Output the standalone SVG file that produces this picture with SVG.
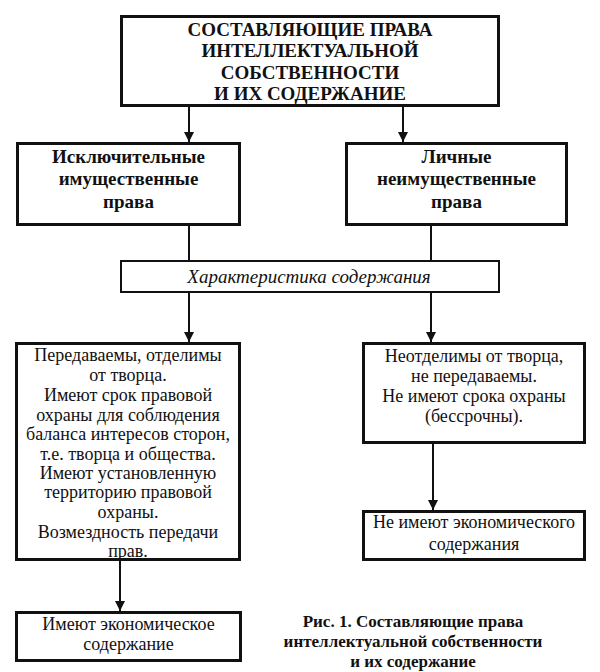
<svg xmlns="http://www.w3.org/2000/svg" width="600" height="672" viewBox="0 0 600 672">
<style>
  .box { fill: #fff; stroke: #111; stroke-width: 3; }
  .thin { fill: #fff; stroke: #111; stroke-width: 2; }
  .conn { stroke: #111; stroke-width: 2; fill: none; }
  text { font-family: "Liberation Serif", "Times New Roman", serif; fill: #111; text-anchor: middle; }
  .title { font-size: 19px; font-weight: bold; }
  .head { font-size: 19px; font-weight: bold; }
  .ital { font-size: 19px; font-style: italic; }
  .body { font-size: 18px; }
  .cap { font-size: 17px; font-weight: bold; }
</style>
<defs>
  <marker id="arr" markerUnits="userSpaceOnUse" markerWidth="12" markerHeight="12" refX="10" refY="6" orient="auto">
    <path d="M0,1 L10,6 L0,11 Z" fill="#111"/>
  </marker>
</defs>
<rect width="600" height="672" fill="#fff"/>

<g id="connectors">
  <line class="conn" x1="189" y1="107" x2="189" y2="142" marker-end="url(#arr)"/>
  <line class="conn" x1="403" y1="107" x2="403" y2="142" marker-end="url(#arr)"/>
  <line class="conn" x1="189" y1="226" x2="189" y2="260"/>
  <line class="conn" x1="431" y1="226" x2="431" y2="260"/>
  <line class="conn" x1="189" y1="293" x2="189" y2="342" marker-end="url(#arr)"/>
  <line class="conn" x1="431" y1="293" x2="431" y2="342" marker-end="url(#arr)"/>
  <line class="conn" x1="433" y1="444" x2="433" y2="510" marker-end="url(#arr)"/>
  <line class="conn" x1="120" y1="561" x2="120" y2="611" marker-end="url(#arr)"/>
</g>

<g id="root">
  <rect class="box" x="121.5" y="16.5" width="377" height="89"/>
  <text class="title" x="310" y="36">СОСТАВЛЯЮЩИЕ ПРАВА</text>
  <text class="title" x="310" y="57">ИНТЕЛЛЕКТУАЛЬНОЙ</text>
  <text class="title" x="310" y="79">СОБСТВЕННОСТИ</text>
  <text class="title" x="310" y="100">И ИХ СОДЕРЖАНИЕ</text>
</g>

<g id="exclusive">
  <rect class="box" x="17.5" y="143.5" width="222" height="81"/>
  <text class="head" x="128.5" y="163">Исключительные</text>
  <text class="head" x="128.5" y="185">имущественные</text>
  <text class="head" x="128.5" y="208">права</text>
</g>

<g id="personal">
  <rect class="box" x="346.5" y="143.5" width="220" height="81"/>
  <text class="head" x="456.5" y="163">Личные</text>
  <text class="head" x="456.5" y="185">неимущественные</text>
  <text class="head" x="456.5" y="208">права</text>
</g>

<g id="characteristic">
  <rect class="thin" x="121" y="261" width="378" height="31"/>
  <text class="ital" x="309" y="283">Характеристика содержания</text>
</g>

<g id="exclusive-content">
  <rect class="box" x="16.5" y="343.5" width="223" height="216"/>
  <text class="body" x="128" y="361">Передаваемы, отделимы</text>
  <text class="body" x="128" y="381">от творца.</text>
  <text class="body" x="128" y="401">Имеют срок правовой</text>
  <text class="body" x="128" y="421">охраны для соблюдения</text>
  <text class="body" x="128" y="440">баланса интересов сторон,</text>
  <text class="body" x="128" y="460">т.е. творца и общества.</text>
  <text class="body" x="128" y="479">Имеют установленную</text>
  <text class="body" x="128" y="498">территорию правовой</text>
  <text class="body" x="128" y="518">охраны.</text>
  <text class="body" x="128" y="538">Возмездность передачи</text>
  <text class="body" x="128" y="557">прав.</text>
</g>

<g id="personal-content">
  <rect class="box" x="363.5" y="343.5" width="221" height="99"/>
  <text class="body" x="474" y="362">Неотделимы от творца,</text>
  <text class="body" x="474" y="382">не передаваемы.</text>
  <text class="body" x="474" y="402">Не имеют срока охраны</text>
  <text class="body" x="474" y="422">(бессрочны).</text>
</g>

<g id="personal-economic">
  <rect class="box" x="363.5" y="511.5" width="221" height="48"/>
  <text class="body" x="474" y="528">Не имеют экономического</text>
  <text class="body" x="474" y="550">содержания</text>
</g>

<g id="exclusive-economic">
  <rect class="box" x="16.5" y="612.5" width="224" height="48"/>
  <text class="body" x="128.5" y="630">Имеют экономическое</text>
  <text class="body" x="128.5" y="650">содержание</text>
</g>

<g id="caption">
  <text class="cap" x="413" y="627">Рис. 1. Составляющие права</text>
  <text class="cap" x="413" y="647">интеллектуальной собственности</text>
  <text class="cap" x="413" y="667">и их содержание</text>
</g>
</svg>
